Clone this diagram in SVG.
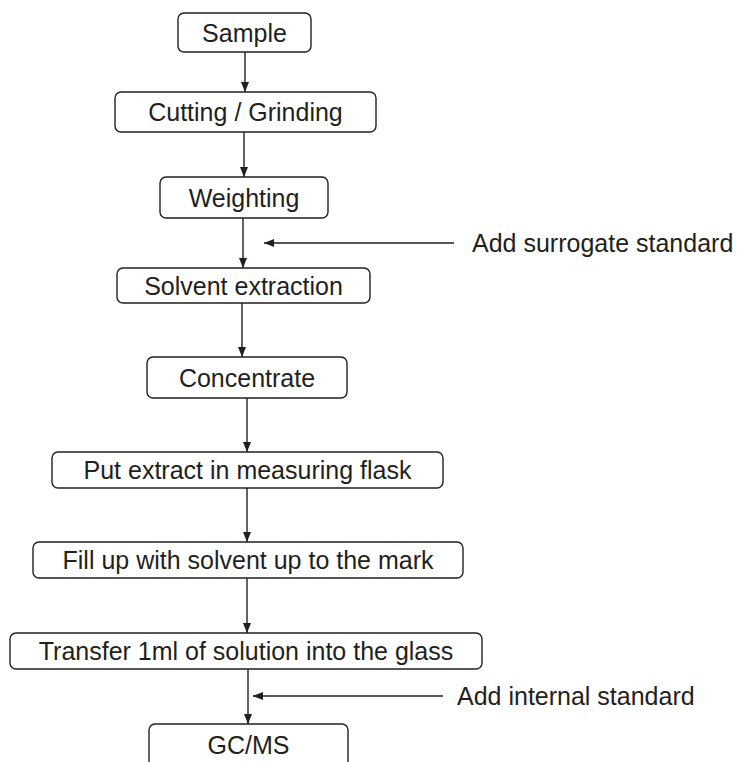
<svg xmlns="http://www.w3.org/2000/svg" width="745" height="762" viewBox="0 0 745 762">
<style>
.box{fill:#fff;stroke:#231f20;stroke-width:1.4}
.lbl{font-family:"Liberation Sans",Arial,sans-serif;font-size:25px;fill:#231f20;text-anchor:middle}
.side{font-family:"Liberation Sans",Arial,sans-serif;font-size:25px;fill:#231f20}
.con{stroke:#231f20;stroke-width:1.4;fill:none;marker-end:url(#ah)}
</style>
<defs>
<marker id="ah" markerUnits="userSpaceOnUse" markerWidth="12" markerHeight="12" viewBox="0 0 12 12" refX="11" refY="6" orient="auto">
<path d="M1,2 L11,6 L1,10 Z" fill="#231f20"/>
</marker>
</defs>
<rect width="745" height="762" fill="#fff"/>
<g id="connectors">
<line class="con" x1="245" y1="52" x2="245" y2="92"/>
<line class="con" x1="244" y1="132" x2="244" y2="177"/>
<line class="con" x1="243" y1="218" x2="243" y2="268"/>
<line class="con" x1="242" y1="303" x2="242" y2="357"/>
<line class="con" x1="247" y1="398" x2="247" y2="452"/>
<line class="con" x1="247" y1="488" x2="247" y2="542"/>
<line class="con" x1="247" y1="578" x2="247" y2="633"/>
<line class="con" x1="248" y1="669" x2="248" y2="724"/>
<line class="con" x1="454" y1="243" x2="264" y2="243"/>
<line class="con" x1="443" y1="696" x2="253" y2="696"/>
</g>
<g id="n-sample"><rect class="box" x="178" y="13" width="133" height="39" rx="6"/><text class="lbl" x="244.5" y="41.5">Sample</text></g>
<g id="n-cutting"><rect class="box" x="115" y="92" width="261" height="40" rx="6"/><text class="lbl" x="245.5" y="121">Cutting / Grinding</text></g>
<g id="n-weighting"><rect class="box" x="160" y="177" width="168" height="41" rx="6"/><text class="lbl" x="244" y="206.5">Weighting</text></g>
<g id="n-solvent"><rect class="box" x="117" y="268" width="253" height="35" rx="6"/><text class="lbl" x="243.5" y="294.5">Solvent extraction</text></g>
<g id="n-concentrate"><rect class="box" x="147" y="357" width="200" height="41" rx="6"/><text class="lbl" x="247" y="386.5">Concentrate</text></g>
<g id="n-put"><rect class="box" x="52" y="452" width="391" height="36" rx="6"/><text class="lbl" x="247.5" y="479">Put extract in measuring flask</text></g>
<g id="n-fill"><rect class="box" x="33" y="542" width="430" height="36" rx="6"/><text class="lbl" x="248" y="569">Fill up with solvent up to the mark</text></g>
<g id="n-transfer"><rect class="box" x="10" y="633" width="472" height="36" rx="6"/><text class="lbl" x="246" y="660">Transfer 1ml of solution into the glass</text></g>
<g id="n-gcms"><rect class="box" x="149" y="724" width="199" height="44" rx="6"/><text class="lbl" x="248.5" y="754">GC/MS</text></g>
<g id="n-surrogate"><text class="side" x="472" y="252">Add surrogate standard</text></g>
<g id="n-internal"><text class="side" x="457" y="705">Add internal standard</text></g>
</svg>
